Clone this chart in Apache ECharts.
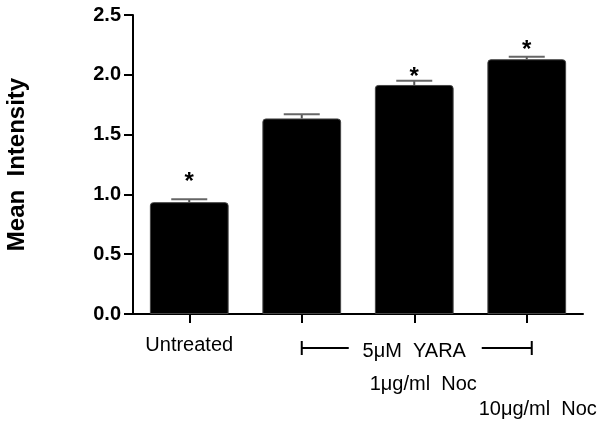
<!DOCTYPE html>
<html>
<head>
<meta charset="utf-8">
<script src="https://cdn.jsdelivr.net/npm/echarts@6/dist/echarts.min.js"></script>
<style>
html,body{margin:0;padding:0;background:#fff;}
#chart{width:604px;height:427px;}
</style>
</head>
<body>
<div id="chart"></div>
<script>
// ---- data ----
var categories = ['Untreated', '5μM YARA + 1μg/ml Noc', '5μM YARA + 10μg/ml Noc (low)', '5μM YARA + 10μg/ml Noc'];
var meanValues = [0.935, 1.635, 1.915, 2.13];
var semValues = [0.025, 0.035, 0.035, 0.02];
var significant = [true, false, true, true];
var starLevels = [1.14, null, 2.02, 2.25];
var yTicks = [0, 0.5, 1.0, 1.5, 2.0, 2.5];
var treatmentLabel = '5μM  YARA';
var doseLabels = ['1μg/ml  Noc', '10μg/ml  Noc'];
var yAxisTitle = 'Mean  Intensity';

var FONT = '"Liberation Sans", Arial, sans-serif';
var chart = echarts.init(document.getElementById('chart'));

var errData = meanValues.map(function (v, i) {
  return [i, v, semValues[i], significant[i] ? 1 : 0, starLevels[i] == null ? -1 : starLevels[i]];
});

chart.setOption({
  animation: false,
  backgroundColor: '#fff',
  grid: { left: 133, right: 21, top: 15, bottom: 113, containLabel: false, outerBoundsMode: 'none' },
  xAxis: {
    type: 'category',
    data: categories,
    boundaryGap: true,
    axisLine: { lineStyle: { color: '#000', width: 2 } },
    axisTick: { show: true, interval: 0, alignWithLabel: true, length: 9, lineStyle: { color: '#000', width: 2 } },
    axisLabel: {
      interval: 0,
      margin: 21,
      fontFamily: FONT,
      fontSize: 20,
      color: '#000',
      formatter: function (v, i) { return i === 0 ? v : ''; }
    },
    splitLine: { show: false }
  },
  yAxis: {
    type: 'value',
    min: yTicks[0],
    max: yTicks[yTicks.length - 1],
    interval: 0.5,
    name: yAxisTitle,
    nameLocation: 'middle',
    nameRotate: 90,
    nameGap: 104,
    nameTextStyle: { fontFamily: FONT, fontSize: 24, fontWeight: 'bold', color: '#000' },
    axisLine: { show: true, lineStyle: { color: '#000', width: 2 } },
    axisTick: { show: true, length: 9, lineStyle: { color: '#000', width: 2 } },
    axisLabel: {
      margin: 12,
      fontFamily: FONT,
      fontSize: 20,
      fontWeight: 'bold',
      color: '#000',
      formatter: function (v) { return v.toFixed(1); }
    },
    splitLine: { show: false }
  },
  series: [
    {
      type: 'bar',
      data: meanValues,
      barWidth: '70%',
      itemStyle: { color: '#000', borderColor: '#444', borderWidth: 1, borderRadius: [3, 3, 0, 0] },
      z: 2
    },
    {
      type: 'custom',
      data: errData,
      z: 3,
      renderItem: function (params, api) {
        var i = api.value(0), v = api.value(1), e = api.value(2);
        var base = api.coord([i, v]);
        var top = api.coord([i, v + e]);
        var half = 18;
        var children = [
          { type: 'line', shape: { x1: base[0], y1: base[1], x2: top[0], y2: top[1] },
            style: { stroke: '#555', lineWidth: 2 } },
          { type: 'line', shape: { x1: top[0] - half, y1: top[1], x2: top[0] + half, y2: top[1] },
            style: { stroke: '#666', lineWidth: 2 } }
        ];
        if (api.value(3) === 1 && api.value(4) >= 0) {
          var sp = api.coord([i, api.value(4)]);
          children.push({
            type: 'text',
            style: {
              text: '*', x: sp[0], y: sp[1] + 5,
              textAlign: 'center', textVerticalAlign: 'middle',
              font: 'bold 24px ' + FONT, fill: '#000'
            }
          });
        }
        return { type: 'group', children: children };
      }
    }
  ]
});

// annotation bracket and dose labels, placed relative to category centers
var c1 = chart.convertToPixel({ xAxisIndex: 0 }, 1);
var c2 = chart.convertToPixel({ xAxisIndex: 0 }, 2);
var c3 = chart.convertToPixel({ xAxisIndex: 0 }, 3);
var lineY = 348;
var ls = { stroke: '#000', lineWidth: 2 };
chart.setOption({
  graphic: [
    { type: 'line', shape: { x1: c1, y1: lineY, x2: c1 + 47, y2: lineY }, style: ls },
    { type: 'line', shape: { x1: c1, y1: lineY - 7, x2: c1, y2: lineY + 7 }, style: ls },
    { type: 'line', shape: { x1: c3 - 45, y1: lineY, x2: c3 + 5, y2: lineY }, style: ls },
    { type: 'line', shape: { x1: c3 + 5, y1: lineY - 7, x2: c3 + 5, y2: lineY + 7 }, style: ls },
    { type: 'text', style: { text: treatmentLabel, x: c2, y: 351, textAlign: 'center', textVerticalAlign: 'middle', font: '20px ' + FONT, fill: '#000' } },
    { type: 'text', style: { text: doseLabels[0], x: c2 + 9, y: 384, textAlign: 'center', textVerticalAlign: 'middle', font: '20px ' + FONT, fill: '#000' } },
    { type: 'text', style: { text: doseLabels[1], x: c3 + 11, y: 409, textAlign: 'center', textVerticalAlign: 'middle', font: '20px ' + FONT, fill: '#000' } }
  ]
});
</script>
</body>
</html>
